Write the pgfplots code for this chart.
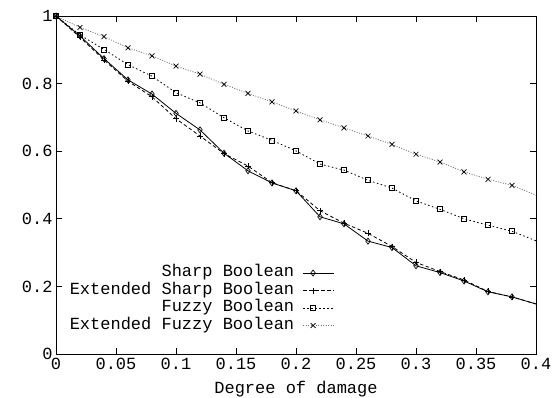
\documentclass[border=0pt]{standalone}
\usepackage{fontspec}
\setmainfont{Liberation Mono}
\usepackage{pgfplots}
\pgfplotsset{compat=1.18}
\begin{document}
\begin{tikzpicture}[font=\fontsize{17}{20}\selectfont]
\path[use as bounding box] (-56pt,-43pt) rectangle (497pt,354pt);
\begin{axis}[
 scale only axis, width=480pt, height=338pt,
 at={(0pt,0pt)}, anchor=south west,
 xmin=0,xmax=0.4,ymin=0,ymax=1,
 xtick={0,0.05,0.1,0.15,0.2,0.25,0.3,0.35,0.4},
 xticklabels={0,0.05,0.1,0.15,0.2,0.25,0.3,0.35,0.4},
 ytick={0,0.2,0.4,0.6,0.8,1},
 yticklabels={0,0.2,0.4,0.6,0.8,1},
 tick align=inside, major tick length=6pt,
 axis line style={line width=1pt},
 tick style={line width=0.8pt, black},
 xticklabel style={yshift=-1pt},
 xlabel={Degree of damage},
 xlabel style={yshift=-4pt},
 clip=false,
 legend plot pos=right,
 legend cell align=right,
 legend style={draw=none, fill=none, at={(0.5875,0.272)}, anchor=north east,
   nodes={inner sep=0.5pt, text height=12pt, text depth=4.5pt}, column sep=8pt},
 legend image code/.code={\draw[mark indices={2}] plot coordinates {(0cm,0cm) (0.35cm,0cm) (1.1cm,0cm)};},
 every axis plot/.append style={line width=0.8pt, black, mark indices={1,...,20}},
]
\addplot[mark=diamond, mark size=3pt, mark options={solid, line width=0.7pt}] coordinates {
(0,1) (0.02,0.941) (0.04,0.874) (0.06,0.811) (0.08,0.769) (0.10,0.712) (0.12,0.663)
(0.14,0.594) (0.16,0.542) (0.18,0.506) (0.20,0.483) (0.22,0.406) (0.24,0.385)
(0.26,0.334) (0.28,0.315) (0.30,0.261) (0.32,0.241) (0.34,0.216) (0.36,0.184)
(0.38,0.169) (0.40,0.148)};
\addlegendentry{Sharp Boolean}
\addplot[dash pattern=on 3.5pt off 2.5pt, mark=+, mark size=3pt, mark options={solid, line width=0.7pt}] coordinates {
(0,1) (0.02,0.937) (0.04,0.870) (0.06,0.807) (0.08,0.761) (0.10,0.696) (0.12,0.645)
(0.14,0.593) (0.16,0.556) (0.18,0.507) (0.20,0.483) (0.22,0.424) (0.24,0.387)
(0.26,0.357) (0.28,0.318) (0.30,0.271) (0.32,0.244) (0.34,0.219) (0.36,0.185)
(0.38,0.169) (0.40,0.148)};
\addlegendentry{Extended Sharp Boolean}
\addplot[dash pattern=on 1.5pt off 2.5pt, mark=square, mark size=2.5pt, mark options={solid, line width=0.7pt}] coordinates {
(0,1) (0.02,0.944) (0.04,0.901) (0.06,0.856) (0.08,0.822) (0.10,0.773) (0.12,0.743)
(0.14,0.699) (0.16,0.660) (0.18,0.632) (0.20,0.601) (0.22,0.562) (0.24,0.544)
(0.26,0.514) (0.28,0.491) (0.30,0.453) (0.32,0.428) (0.34,0.400) (0.36,0.381)
(0.38,0.363) (0.40,0.335)};
\addlegendentry{Fuzzy Boolean}
\addplot[dash pattern=on 1pt off 1.5pt, draw=black!55, mark=x, mark size=3.5pt, mark options={solid, draw=black, line width=0.7pt}] coordinates {
(0,1) (0.02,0.966) (0.04,0.939) (0.06,0.906) (0.08,0.882) (0.10,0.852) (0.12,0.828)
(0.14,0.798) (0.16,0.771) (0.18,0.746) (0.20,0.719) (0.22,0.693) (0.24,0.669)
(0.26,0.645) (0.28,0.620) (0.30,0.591) (0.32,0.568) (0.34,0.539) (0.36,0.517)
(0.38,0.499) (0.40,0.470)};
\addlegendentry{Extended Fuzzy Boolean}
\end{axis}
\end{tikzpicture}
\end{document}
